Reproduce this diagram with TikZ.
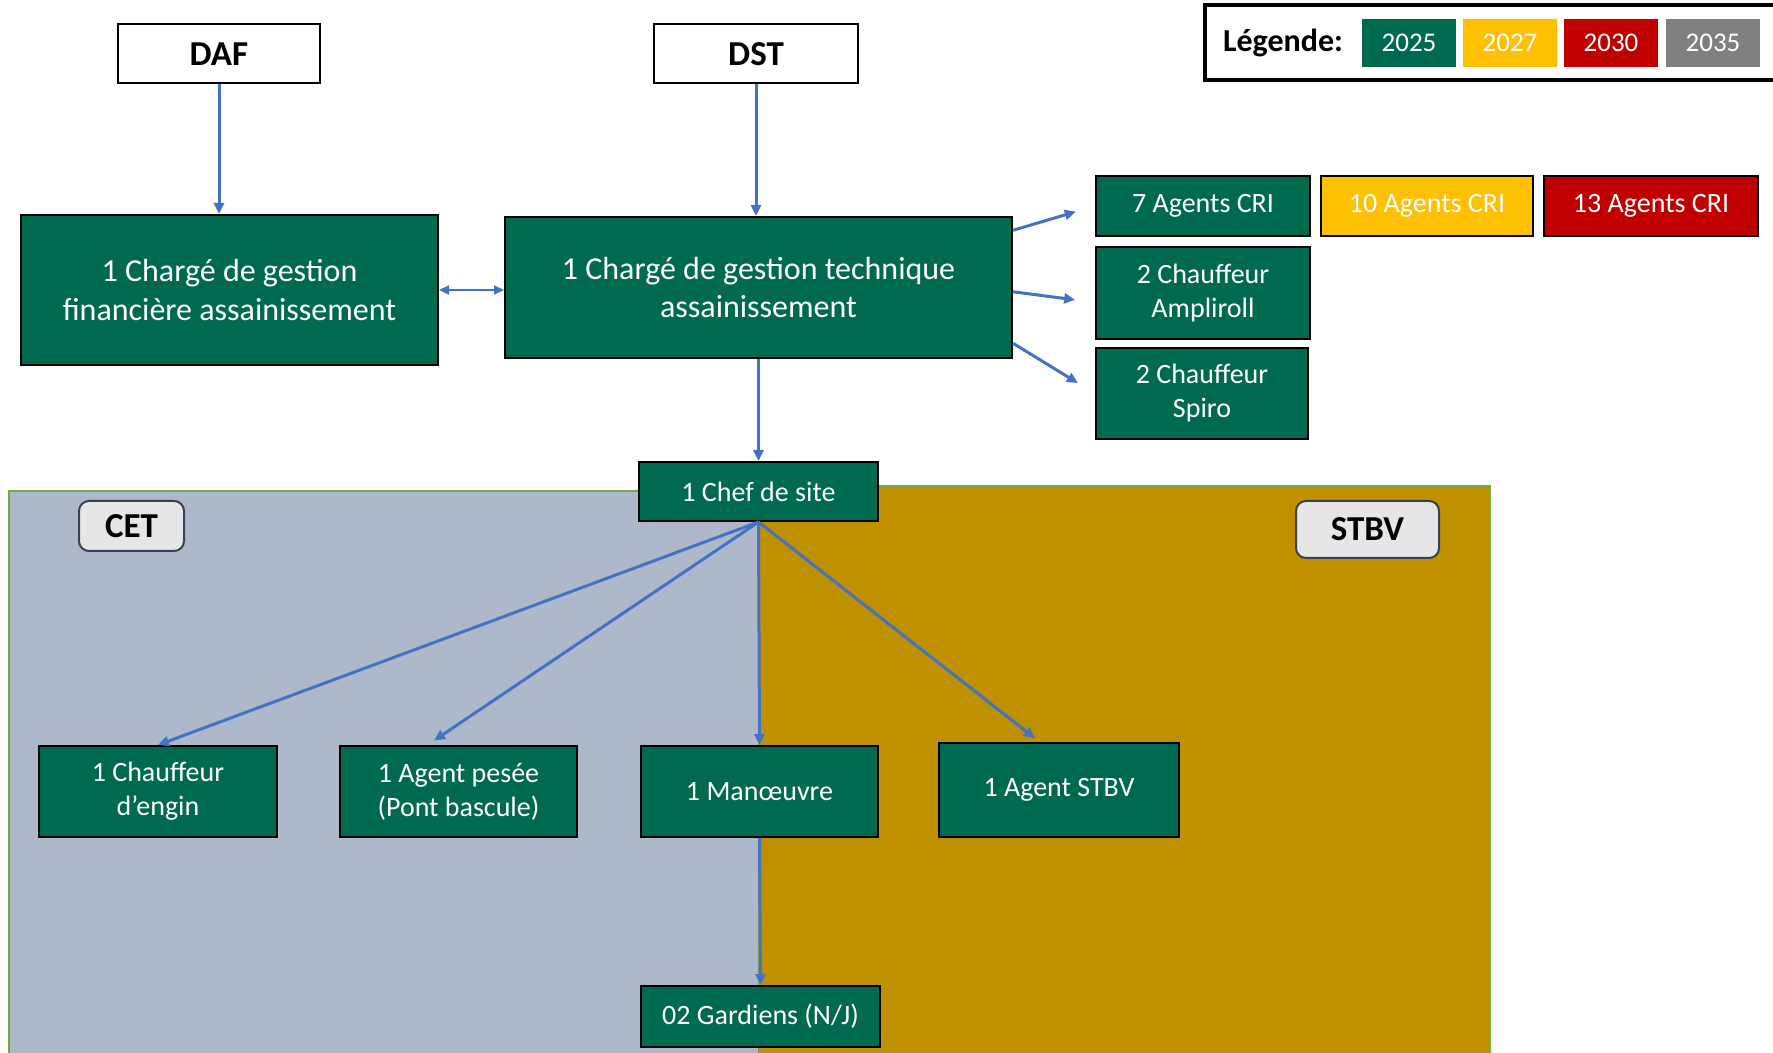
\documentclass[tikz,border=0pt]{standalone}
\usepackage{fontspec}
\setmainfont{Carlito}
\usepackage{tikz}
\usetikzlibrary{arrows.meta,calc}

\begin{document}
\begin{tikzpicture}[x=0.5pt,y=0.5pt,yscale=-1,xscale=1,
  greenbox/.style={draw=black,line width=1pt,fill={rgb, 255:red, 0; green, 106; blue, 78},text=white,align=center,inner sep=0pt,font=\fontsize{14}{17}\selectfont},
  bigbox/.style={greenbox,font=\fontsize{16}{19.2}\selectfont},
  headbox/.style={draw=black,line width=1pt,fill=white,inner sep=0pt,font=\fontsize{17.5}{20}\selectfont\bfseries},
  zonelabel/.style={draw={rgb, 255:red, 55; green, 65; blue, 85},line width=1pt,fill={rgb, 255:red, 231; green, 230; blue, 230},rounded corners=5pt,inner sep=0pt,font=\fontsize{17.5}{20}\selectfont\bfseries},
  yearbox/.style={minimum width=47pt,minimum height=24pt,inner sep=0pt,text=white,font=\fontsize{13.5}{16}\selectfont},
  link/.style={draw={rgb, 255:red, 68; green, 114; blue, 196},line width=1.5pt,-{Triangle[length=5.5pt,width=5pt]}}
]
\useasboundingbox (0,0) rectangle (1773,1053);

%Shape: Zone CET
\draw [draw={rgb, 255:red, 112; green, 173; blue, 71},line width=1pt,fill={rgb, 255:red, 173; green, 185; blue, 202}] (9,491) rectangle (759,1070);
%Shape: Zone STBV
\draw [draw={rgb, 255:red, 112; green, 173; blue, 71},line width=1pt,fill={rgb, 255:red, 191; green, 144; blue, 0}] (759,486) rectangle (1490,1070);

%Shape: Legend frame
\draw [line width=2pt] (1205,5) rectangle (1800,80);
% Text Node
\node (legtitle) at (1283,43) [font=\fontsize{16}{19}\selectfont\bfseries] {Légende:};
\node (y2025) at (1409,43) [yearbox,fill={rgb, 255:red, 0; green, 106; blue, 78}] {2025};
\node (y2027) at (1510,43) [yearbox,fill={rgb, 255:red, 255; green, 192; blue, 0}] {2027};
\node (y2030) at (1611,43) [yearbox,fill={rgb, 255:red, 192; green, 0; blue, 0}] {2030};
\node (y2035) at (1713,43) [yearbox,fill={rgb, 255:red, 128; green, 128; blue, 128}] {2035};

% Head nodes
\node (daf) at (219,54) [headbox,minimum width=101pt,minimum height=29.5pt] {DAF};
\node (dst) at (756,54) [headbox,minimum width=102pt,minimum height=29.5pt] {DST};

% Chargés
\node (fin) at (229.5,290) [bigbox,minimum width=208.5pt,minimum height=75pt] {1 Chargé de gestion\\financière assainissement};
\node (tech) at (758.5,287.5) [bigbox,minimum width=253.5pt,minimum height=70.5pt] {1 Chargé de gestion technique\\assainissement};

% Agents on the right
\node (cri7) at (1203,206) [greenbox,minimum width=107pt,minimum height=30pt] {7 Agents CRI};
\node (cri10) at (1427,206) [greenbox,fill={rgb, 255:red, 255; green, 192; blue, 0},minimum width=106pt,minimum height=30pt] {10 Agents CRI};
\node (cri13) at (1651,206) [greenbox,fill={rgb, 255:red, 192; green, 0; blue, 0},minimum width=107pt,minimum height=30pt] {13 Agents CRI};
\node (ampli) at (1203,293) [greenbox,minimum width=107pt,minimum height=46pt] {2 Chauffeur\\Ampliroll};
\node (spiro) at (1202,393.5) [greenbox,minimum width=106pt,minimum height=45.5pt] {2 Chauffeur\\Spiro};

% Site
\node (chef) at (758.5,491.5) [greenbox,minimum width=119.5pt,minimum height=29.5pt] {1 Chef de site};
\node (cet) at (131.5,526) [zonelabel,minimum width=52.5pt,minimum height=25pt] {CET};
\node (stbv) at (1367.5,529.5) [zonelabel,minimum width=71.5pt,minimum height=28.5pt] {STBV};
\node (engin) at (158,791.5) [greenbox,minimum width=119pt,minimum height=45.5pt] {1 Chauffeur\\d’engin};
\node (pesee) at (458.5,791.5) [greenbox,minimum width=118.5pt,minimum height=45.5pt] {1 Agent pesée\\(Pont bascule)};
\node (manoeuvre) at (759.5,791.5) [greenbox,minimum width=118.5pt,minimum height=45.5pt] {1 Manœuvre};
\node (agentstbv) at (1059,790) [greenbox,minimum width=120pt,minimum height=47pt] {1 Agent STBV};
\node (gardiens) at (760.5,1016.5) [greenbox,minimum width=119.5pt,minimum height=30.5pt] {02 Gardiens (N/J)};

% Links
\draw [link] (daf.south) -- (daf.south |- fin.north);
\draw [link] (dst.south) -- (dst.south |- tech.north);
\draw [link,line width=1pt,{Triangle[length=5pt,width=4.5pt]}-{Triangle[length=5pt,width=4.5pt]}] (fin.east) -- (fin.east -| tech.west);
\draw [link,shorten >=10pt] ($(tech.north east)!0.1!(tech.south east)$) -- (cri7.west);
\draw [link,shorten >=10pt] ($(tech.north east)!0.53!(tech.south east)$) -- ($(ampli.north west)!0.6!(ampli.south west)$);
\draw [link,shorten >=10pt] ($(tech.north east)!0.89!(tech.south east)$) -- (spiro.west);
\draw [link] (tech.south) -- (chef.north);
\draw [link] (chef.south) -- (engin.north);
\draw [link,shorten >=4pt] (chef.south) -- ($(pesee.north west)!0.37!(pesee.north east)$);
\draw [link] (chef.south) -- (manoeuvre.north);
\draw [link,shorten >=3pt] (chef.south) -- ($(agentstbv.north west)!0.42!(agentstbv.north east)$);
\draw [link] (manoeuvre.south) -- (gardiens.north);

\end{tikzpicture}
\end{document}
